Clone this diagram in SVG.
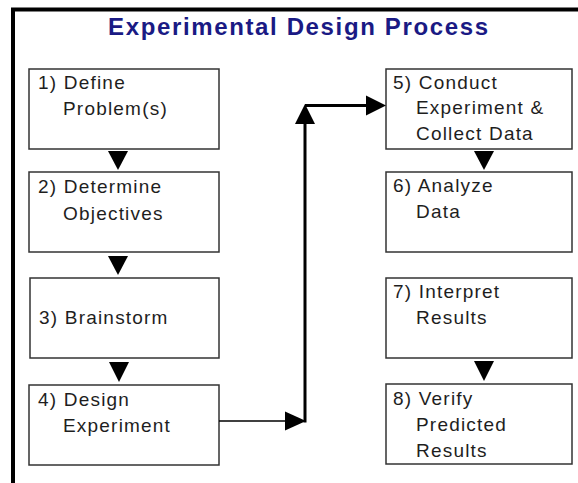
<svg xmlns="http://www.w3.org/2000/svg" width="578" height="483" viewBox="0 0 578 483">
<style>
.box{fill:#fff;stroke:#333;stroke-width:1.5}
.t{font-family:"Liberation Sans",Arial,sans-serif;font-size:19px;letter-spacing:1.2px;fill:#1e1e1e}
.title{font-family:"Liberation Sans",Arial,sans-serif;font-size:24px;font-weight:bold;fill:#1a1a84}
.ln{stroke:#000;fill:none}
.ah{fill:#000}
</style>
<rect width="578" height="483" fill="#fff"/>
<path d="M13,483 V9.5 H578" stroke="#000" stroke-width="4" fill="none"/>
<text class="title" x="108" y="35" textLength="380" lengthAdjust="spacing">Experimental Design Process</text>
<g id="n1"><rect class="box" x="29" y="69" width="190" height="80"/><text class="t" x="38" y="89">1) Define</text><text class="t" x="63" y="115">Problem(s)</text></g>
<g id="n2"><rect class="box" x="29" y="172" width="190" height="80"/><text class="t" x="38" y="193">2) Determine</text><text class="t" x="63" y="220">Objectives</text></g>
<g id="n3"><rect class="box" x="30" y="278" width="189" height="80"/><text class="t" x="39" y="324">3) Brainstorm</text></g>
<g id="n4"><rect class="box" x="29" y="385" width="190" height="80"/><text class="t" x="38" y="406">4) Design</text><text class="t" x="63" y="432">Experiment</text></g>
<g id="n5"><rect class="box" x="386" y="69" width="186" height="80"/><text class="t" x="393" y="89">5) Conduct</text><text class="t" x="416" y="114">Experiment &amp;</text><text class="t" x="416" y="140">Collect Data</text></g>
<g id="n6"><rect class="box" x="386" y="172" width="186" height="80"/><text class="t" x="393" y="192">6) Analyze</text><text class="t" x="416" y="218">Data</text></g>
<g id="n7"><rect class="box" x="386" y="278" width="186" height="80"/><text class="t" x="393" y="298">7) Interpret</text><text class="t" x="416" y="324">Results</text></g>
<g id="n8"><rect class="box" x="386" y="384" width="186" height="80"/><text class="t" x="393" y="405">8) Verify</text><text class="t" x="416" y="431">Predicted</text><text class="t" x="416" y="457">Results</text></g>
<g id="connectors">
<polygon class="ah" points="108,151 128,151 118,170"/>
<polygon class="ah" points="108,256 128,256 118,275"/>
<polygon class="ah" points="109,362 129,362 119,382"/>
<polygon class="ah" points="474,151 494,151 484,170"/>
<polygon class="ah" points="474,361 494,361 484,381"/>
<path class="ln" d="M219,421 H290" stroke-width="1.5"/>
<polygon class="ah" points="285,411.5 285,430.5 306,421"/>
<path class="ln" d="M305,422.5 V120" stroke-width="3"/>
<polygon class="ah" points="295,124 315,124 305,104"/>
<path class="ln" d="M305,105.5 H372" stroke-width="3"/>
<polygon class="ah" points="366,95.5 366,115.5 386,105.5"/>
</g>
</svg>
